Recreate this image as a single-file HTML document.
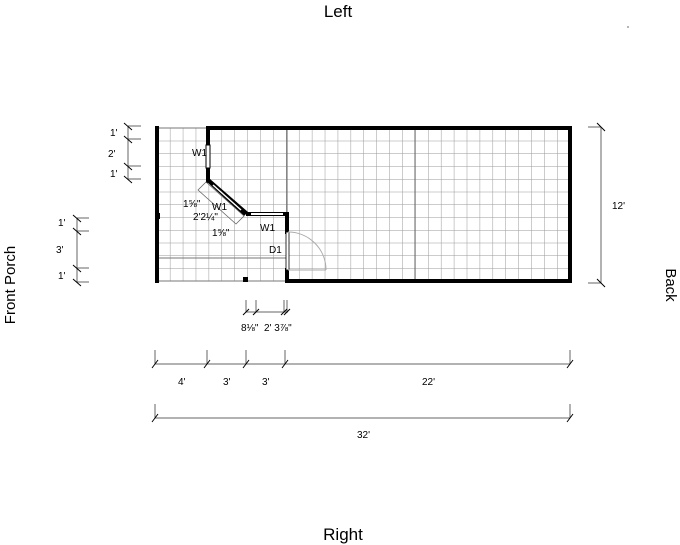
<!DOCTYPE html>
<html><head><style>
html,body{margin:0;padding:0;background:#fff;}
svg{display:block;font-family:"Liberation Sans",sans-serif;}
</style></head><body>
<svg width="680" height="545" viewBox="0 0 680 545" xmlns="http://www.w3.org/2000/svg">
<defs>
<pattern id="g" x="157" y="128" width="12.906" height="12.75" patternUnits="userSpaceOnUse">
<path d="M0 0V12.75M0 0H12.906" stroke="#999" stroke-width="1" fill="none"/>
</pattern>
</defs>
<rect width="680" height="545" fill="#fff"/>
<text x="338" y="17" font-size="17" text-anchor="middle">Left</text>
<text x="343" y="540" font-size="17" text-anchor="middle">Right</text>
<text transform="translate(15,285) rotate(-90)" font-size="15" text-anchor="middle">Front Porch</text>
<text transform="translate(666,285) rotate(90)" font-size="15" text-anchor="middle">Back</text>
<rect x="157" y="128" width="413" height="153" fill="url(#g)"/>
<rect x="157" y="128" width="413" height="153" fill="none" stroke="#777" stroke-width="1"/>
<line x1="287" y1="128" x2="287" y2="281" stroke="#666"/>
<line x1="415" y1="128" x2="415" y2="281" stroke="#666"/>
<line x1="157" y1="258" x2="287" y2="258" stroke="#777"/>
<g stroke="#000" stroke-width="4" fill="none" stroke-linecap="square">
<line x1="157" y1="128" x2="157" y2="281"/>
<polyline points="208,145 208,128 570,128 570,281 287,281 287,270"/>
<line x1="208" y1="168" x2="208" y2="181"/>
<line x1="287" y1="232" x2="287" y2="214"/>
</g>
<rect x="155" y="213" width="5" height="6" fill="#000"/>
<rect x="206" y="145" width="4" height="23" fill="#fff" stroke="#000" stroke-width="1"/>
<polygon points="206,181 210,179 248,212 244,216" fill="#000"/>
<line x1="213" y1="185" x2="241" y2="210" stroke="#fff" stroke-width="1.5"/>
<rect x="246" y="212" width="41" height="4" fill="#000"/>
<rect x="251" y="213" width="32" height="2" fill="#fff"/>
<rect x="286" y="232" width="3" height="38" fill="#fff" stroke="#000" stroke-width="0.8"/>
<path d="M288 232 A38 38 0 0 1 326 270" stroke="#aaa" fill="none"/>
<line x1="288" y1="270" x2="326" y2="270" stroke="#aaa"/>
<rect x="243" y="277" width="5" height="5" fill="#000"/>
<polygon points="198,190 206,182 244,216 236,224" fill="none" stroke="#666" stroke-width="0.8"/>
<g font-size="10" fill="#000">
<text x="192" y="156">W1</text>
<text x="212" y="210">W1</text>
<text x="260" y="231">W1</text>
<text x="269" y="253">D1</text>
<text x="183" y="207">1⅝"</text>
<text x="193" y="220">2'2¼"</text>
<text x="212" y="236">1⅝"</text>
</g>
<g stroke="#666" stroke-width="1" fill="none">
<line x1="128" y1="126" x2="128" y2="179"/>
<path d="M128 126H141M128 139H141M128 166H141M128 179H141"/>
<path d="M124 123L132 130M124 136L132 143M124 163L132 170M124 176L132 183" stroke="#000"/>
<line x1="77" y1="218" x2="77" y2="282"/>
<path d="M77 218H89M77 231H89M77 268H89M77 282H89"/>
<path d="M73 215L81 222M73 228L81 235M73 265L81 272M73 279L81 286" stroke="#000"/>
<line x1="601" y1="127" x2="601" y2="283"/>
<path d="M588 127H601M588 283H601"/>
<path d="M597 123L605 131M597 279L605 287" stroke="#000"/>
<line x1="155" y1="364" x2="570" y2="364"/>
<path d="M155 350V364M207 350V364M246 350V364M285 350V364M570 350V364"/>
<path d="M152 368L158 360M204 368L210 360M243 368L249 360M282 368L288 360M567 368L573 360" stroke="#000"/>
<line x1="155" y1="418" x2="570" y2="418"/>
<path d="M155 404V418M570 404V418"/>
<path d="M152 422L158 414M567 422L573 414" stroke="#000"/>
<line x1="246" y1="312" x2="288" y2="312"/>
<path d="M246 300V312M256 300V312M284 300V312M287 300V312"/>
<path d="M243 315L249 309M253 315L259 309M281 315L287 309M284 315L290 309" stroke="#000"/>
</g>
<g font-size="10" fill="#000">
<text x="110" y="136">1'</text>
<text x="108" y="157">2'</text>
<text x="110" y="177">1'</text>
<text x="58" y="226">1'</text>
<text x="56" y="253">3'</text>
<text x="58" y="279">1'</text>
<text x="612" y="209">12'</text>
<text x="178" y="385">4'</text>
<text x="223" y="385">3'</text>
<text x="262" y="385">3'</text>
<text x="422" y="385">22'</text>
<text x="357" y="438">32'</text>
<text x="241" y="331">8⅛"</text>
<text x="264" y="331">2' 3⅞"</text>
</g>
<circle cx="628" cy="27" r="0.6" fill="#000"/>
</svg>
</body></html>
